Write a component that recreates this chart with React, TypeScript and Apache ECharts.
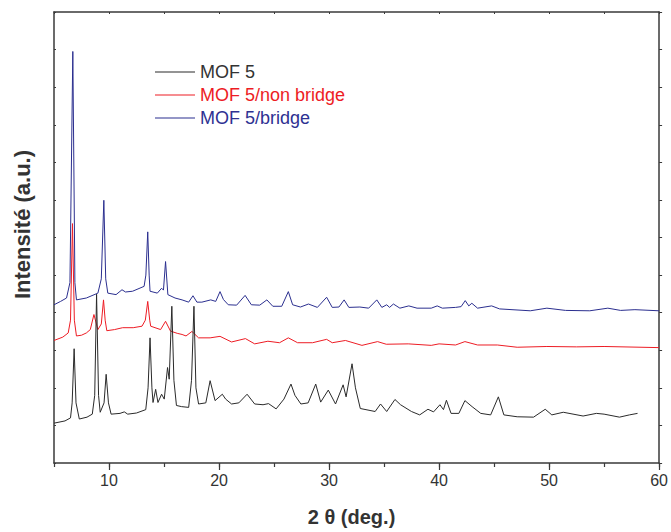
import React, { useEffect, useRef } from "react";
import * as echarts from "echarts";

const seriesNames = ["MOF 5", "MOF 5/non bridge", "MOF 5/bridge"];
const xTickLabels = [10, 20, 30, 40, 50, 60];

const mof5: [number, number][] = [
  [5.0, 1.06], [6.0, 1.12], [6.5, 1.2], [6.65, 1.6], [6.83, 3.04], [7.0, 1.6], [7.3, 1.17], [8.0, 1.22],
  [8.48, 1.3], [8.7, 1.8], [8.87, 4.49], [9.05, 1.8], [9.2, 1.35], [9.55, 1.6], [9.74, 2.36], [9.95, 1.6],
  [10.19, 1.3], [11.0, 1.32], [11.39, 1.36], [11.7, 1.3], [12.5, 1.33], [13.34, 1.42], [13.55, 2.0],
  [13.73, 3.33], [13.9, 2.0], [14.0, 1.61], [14.24, 1.96], [14.45, 1.61], [14.78, 1.83], [15.02, 1.7],
  [15.32, 2.54], [15.47, 2.23], [15.71, 4.17], [15.9, 2.2], [16.13, 1.53], [16.6, 1.5], [17.24, 1.48],
  [17.5, 2.2], [17.72, 4.17], [17.9, 2.0], [18.14, 1.57], [18.8, 1.6], [19.19, 2.19], [19.64, 1.66],
  [20.3, 1.83], [20.6, 1.7], [21.14, 1.57], [21.8, 1.6], [22.55, 1.83], [23.24, 1.57], [24.0, 1.55],
  [24.5, 1.58], [25.19, 1.44], [25.9, 1.7], [26.54, 2.1], [26.9, 1.8], [27.44, 1.57], [28.1, 1.6],
  [28.79, 2.1], [29.24, 1.62], [29.93, 1.94], [30.59, 1.57], [31.28, 2.08], [31.55, 1.76], [32.09, 2.64],
  [32.4, 2.0], [32.84, 1.45], [34.19, 1.37], [34.68, 1.57], [35.24, 1.37], [35.99, 1.69], [36.5, 1.55],
  [37.49, 1.37], [38.24, 1.28], [38.99, 1.43], [39.5, 1.36], [40.08, 1.55], [40.4, 1.42], [40.67, 1.67],
  [41.09, 1.32], [41.8, 1.32], [42.35, 1.66], [43.0, 1.5], [43.79, 1.32], [44.69, 1.28], [45.39, 1.76],
  [45.89, 1.28], [47.1, 1.23], [48.59, 1.22], [49.65, 1.43], [50.25, 1.28], [51.29, 1.35], [53.09, 1.25],
  [54.3, 1.32], [55.0, 1.3], [56.4, 1.22], [57.3, 1.28], [58.04, 1.32],
];

const mof5NonBridge: [number, number][] = [
  [5.0, 3.26], [5.8, 3.35], [6.29, 3.46], [6.5, 3.8], [6.68, 6.37], [6.85, 3.8], [7.04, 3.38], [7.5, 3.4],
  [7.94, 3.46], [8.3, 3.55], [8.63, 3.95], [8.99, 3.55], [9.3, 3.7], [9.5, 4.34], [9.65, 3.8], [9.8, 3.52],
  [10.5, 3.55], [11.24, 3.6], [12.2, 3.6], [13.0, 3.64], [13.3, 3.8], [13.52, 4.3], [13.7, 3.8],
  [13.79, 3.64], [14.69, 3.55], [15.14, 3.77], [15.59, 3.51], [16.2, 3.45], [16.64, 3.42], [17.0, 3.38],
  [17.54, 3.5], [18.14, 3.33], [19.19, 3.33], [20.09, 3.37], [21.14, 3.22], [22.4, 3.31], [23.24, 3.17],
  [24.44, 3.24], [25.5, 3.2], [26.3, 3.33], [27.14, 3.2], [28.5, 3.2], [29.78, 3.29], [30.29, 3.2],
  [31.49, 3.26], [32.99, 3.13], [34.41, 3.23], [35.2, 3.16], [37.2, 3.17], [39.29, 3.13], [40.0, 3.17],
  [41.5, 3.14], [42.35, 3.23], [43.5, 3.14], [45.3, 3.14], [47.1, 3.08], [49.8, 3.1], [52.5, 3.09],
  [55.0, 3.1], [60.0, 3.07],
];

const mof5Bridge: [number, number][] = [
  [5.0, 4.21], [5.6, 4.3], [6.14, 4.39], [6.45, 4.8], [6.71, 10.95], [6.9, 4.8], [7.04, 4.34], [7.94, 4.39],
  [8.99, 4.52], [9.3, 4.9], [9.53, 6.99], [9.7, 4.9], [9.89, 4.52], [10.64, 4.48], [11.18, 4.61],
  [11.5, 4.55], [12.14, 4.57], [13.19, 4.7], [13.35, 5.0], [13.52, 6.15], [13.65, 5.0], [13.73, 4.57],
  [14.39, 4.52], [14.78, 4.65], [14.95, 4.6], [15.14, 5.36], [15.35, 4.48], [16.0, 4.39], [16.64, 4.34],
  [17.24, 4.28], [17.63, 4.45], [17.99, 4.28], [18.44, 4.28], [19.25, 4.34], [19.7, 4.3], [20.09, 4.56],
  [20.4, 4.35], [20.84, 4.21], [21.6, 4.2], [22.37, 4.46], [22.94, 4.21], [23.7, 4.2], [24.35, 4.34],
  [24.89, 4.17], [25.7, 4.17], [26.3, 4.56], [26.69, 4.21], [27.4, 4.15], [28.13, 4.23], [28.94, 4.14],
  [29.78, 4.41], [30.29, 4.14], [30.9, 4.15], [31.37, 4.34], [31.8, 4.14], [32.8, 4.15], [33.6, 4.12],
  [34.34, 4.34], [34.8, 4.14], [35.24, 4.21], [35.5, 4.14], [35.85, 4.23], [36.44, 4.12], [37.25, 4.18],
  [38.0, 4.12], [39.29, 4.12], [39.83, 4.18], [40.3, 4.12], [41.5, 4.14], [42.0, 4.16], [42.38, 4.32],
  [42.7, 4.18], [42.98, 4.25], [43.5, 4.12], [44.78, 4.18], [45.5, 4.1], [48.29, 4.05], [49.8, 4.12],
  [51.5, 4.06], [53.7, 4.05], [55.34, 4.12], [56.5, 4.06], [57.8, 4.08], [60.0, 4.05],
];

const FONT = "'Liberation Sans', Arial, Helvetica, sans-serif";
const AXIS_COLOR = "#3a3a3a";
const COLORS = { black: "#2a2a2a", red: "#ed1c24", blue: "#2b2f8f" };

export default function App() {
  const ref = useRef<HTMLDivElement>(null);
  useEffect(() => {
    const chart = echarts.init(ref.current as HTMLDivElement, null, { renderer: "svg" });
    const axisLine = { show: true, lineStyle: { color: AXIS_COLOR, width: 1.5 } };
    chart.setOption({
      animation: false,
      backgroundColor: "#ffffff",
      grid: { left: 54, right: 6, top: 12, bottom: 66, containLabel: false },
      legend: {
        orient: "vertical",
        left: 155,
        top: 63,
        padding: 0,
        icon: "rect",
        itemWidth: 40,
        itemHeight: 1.2,
        itemGap: 5,
        textStyle: { fontSize: 18, fontFamily: FONT },
        data: [
          { name: seriesNames[0], textStyle: { color: "#333333" } },
          { name: seriesNames[1], textStyle: { color: COLORS.red } },
          { name: seriesNames[2], textStyle: { color: "#2e3192" } },
        ],
      },
      xAxis: [
        {
          type: "value",
          min: 5,
          max: 60,
          interval: 5,
          position: "bottom",
          axisLine,
          axisTick: { show: true, length: 4, lineStyle: { color: AXIS_COLOR, width: 1.2 } },
          axisLabel: {
            customValues: xTickLabels,
            fontSize: 16,
            color: "#333333",
            fontFamily: FONT,
            margin: 9,
          },
          splitLine: { show: false },
          name: "2 θ (deg.)",
          nameLocation: "middle",
          nameGap: 44,
          nameTextStyle: {
            fontSize: 20,
            fontWeight: "bold",
            color: "#333333",
            fontFamily: FONT,
            padding: [0, 10, 0, 0],
          },
        },
        {
          type: "value",
          min: 5,
          max: 60,
          position: "bottom",
          axisLine: { show: false },
          axisTick: {
            show: true,
            customValues: xTickLabels,
            length: 7,
            lineStyle: { color: AXIS_COLOR, width: 1.2 },
          },
          axisLabel: { show: false },
          splitLine: { show: false },
        },
        {
          type: "value",
          min: 5,
          max: 60,
          interval: 5,
          position: "top",
          axisLine,
          axisTick: { show: true, inside: true, length: 2, lineStyle: { color: AXIS_COLOR } },
          axisLabel: { show: false },
          splitLine: { show: false },
        },
      ],
      yAxis: [
        {
          type: "value",
          min: 0,
          max: 12,
          interval: 1,
          position: "left",
          axisLine,
          axisTick: { show: true, inside: true, length: 2, lineStyle: { color: AXIS_COLOR } },
          axisLabel: { show: false },
          splitLine: { show: false },
          name: "Intensité (a.u.)",
          nameLocation: "middle",
          nameGap: 21,
          nameTextStyle: {
            fontSize: 22,
            fontWeight: "bold",
            color: "#333333",
            fontFamily: FONT,
            padding: [0, 0, 0, 26],
          },
        },
        {
          type: "value",
          min: 0,
          max: 12,
          interval: 1,
          position: "right",
          axisLine,
          axisTick: { show: true, length: 3, lineStyle: { color: AXIS_COLOR } },
          axisLabel: { show: false },
          splitLine: { show: false },
        },
      ],
      series: [
        {
          name: seriesNames[2],
          type: "line",
          xAxisIndex: 0,
          yAxisIndex: 0,
          data: mof5Bridge,
          symbol: "none",
          showSymbol: false,
          lineStyle: { color: COLORS.blue, width: 1 },
          itemStyle: { color: COLORS.blue },
        },
        {
          name: seriesNames[1],
          type: "line",
          xAxisIndex: 0,
          yAxisIndex: 0,
          data: mof5NonBridge,
          symbol: "none",
          showSymbol: false,
          lineStyle: { color: COLORS.red, width: 1 },
          itemStyle: { color: COLORS.red },
        },
        {
          name: seriesNames[0],
          type: "line",
          xAxisIndex: 0,
          yAxisIndex: 0,
          data: mof5,
          symbol: "none",
          showSymbol: false,
          lineStyle: { color: COLORS.black, width: 1 },
          itemStyle: { color: COLORS.black },
        },
      ],
    });
    return () => chart.dispose();
  }, []);
  return (
    <div
      ref={ref}
      style={{ position: "absolute", left: 0, top: 0, width: 671, height: 532 }}
    />
  );
}
